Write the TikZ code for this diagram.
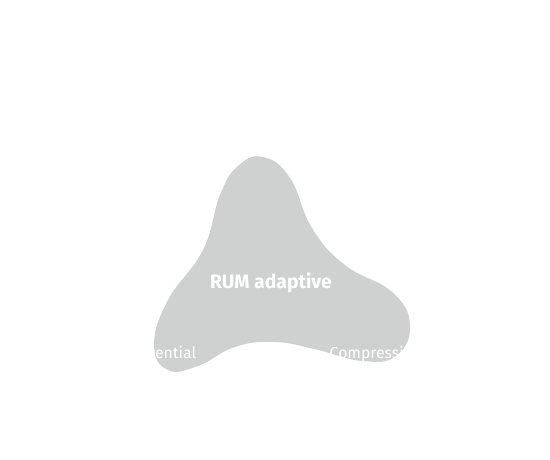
\documentclass[tikz,border=0pt]{standalone}
\usepackage{fontspec}
\setmainfont{Fira Sans}
\definecolor{blobgray}{HTML}{CFD0D0}

\begin{document}
\begin{tikzpicture}[x=0.02cm, y=-0.02cm,
    corner/.style={text=white, font=\fontsize{24}{26}\selectfont\bfseries},
    family/.style={text=white, align=center, font=\fontsize{9}{14}\selectfont}]
    \useasboundingbox (0,0) rectangle (550,459);
    % the adaptive region
    \fill[blobgray] plot[smooth cycle, tension=0.75] coordinates {
        (263,157) (290,178) (312,228) (345,265) (392,292) (410,325) (396,356)
        (362,361) (318,350) (275,342) (235,347) (198,366) (168,370) (154,345)
        (168,300) (203,250) (220,195) (238,166)};
    \node[text=white, font=\fontsize{11}{13}\selectfont\bfseries] (rum) at (271,283) {RUM adaptive};
    % corners
    \node[corner] (read) at (266,36) {Read};
    \node[corner] (update) at (68,432) {Update};
    \node[corner] (memory) at (466,432) {Memory};
    % families of access methods
    \node[family] (tree) at (272,131) {Point \&\\Tree Indexes};
    \node[family] (diff) at (156,366) {Differential\\Log-structured Trees};
    \node[family] (approx) at (378,366) {Compressible\\and approximate};
\end{tikzpicture}
\end{document}
